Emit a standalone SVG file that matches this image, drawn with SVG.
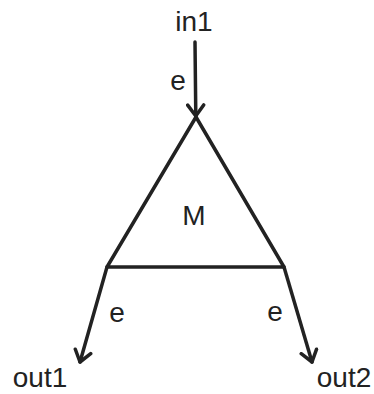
<svg xmlns="http://www.w3.org/2000/svg" width="374" height="394" viewBox="0 0 374 394">
<style>
.t{font-family:"Liberation Sans",Arial,sans-serif;font-size:28px;fill:#222;text-anchor:middle}
.ln{stroke:#222;stroke-width:3.5;fill:none;stroke-linecap:round;stroke-linejoin:round}
</style>
<defs>
<marker id="ah" viewBox="-13 -10 15 20" markerWidth="15" markerHeight="20" refX="0" refY="0" orient="auto" markerUnits="userSpaceOnUse">
<path d="M-11,-8 L0,0 L-11,8" fill="none" stroke="#222" stroke-width="3.5" stroke-linecap="round" stroke-linejoin="round"/>
</marker>
</defs>
<rect width="374" height="394" fill="#fff"/>
<g id="M">
<polygon class="ln" points="196,117 107,267 284,267"/>
<text class="t" x="194" y="225">M</text>
</g>
<g id="in1"><text class="t" x="194" y="31">in1</text></g>
<g id="out1"><text class="t" x="40" y="387">out1</text></g>
<g id="out2"><text class="t" x="344" y="387">out2</text></g>
<g id="connectors">
<line class="ln" x1="195" y1="42" x2="195.8" y2="116" marker-end="url(#ah)"/>
<text class="t" x="178" y="90">e</text>
<line class="ln" x1="107" y1="267" x2="80" y2="362" marker-end="url(#ah)"/>
<text class="t" x="117" y="322">e</text>
<line class="ln" x1="284" y1="267" x2="312" y2="362" marker-end="url(#ah)"/>
<text class="t" x="275" y="321">e</text>
</g>
</svg>
